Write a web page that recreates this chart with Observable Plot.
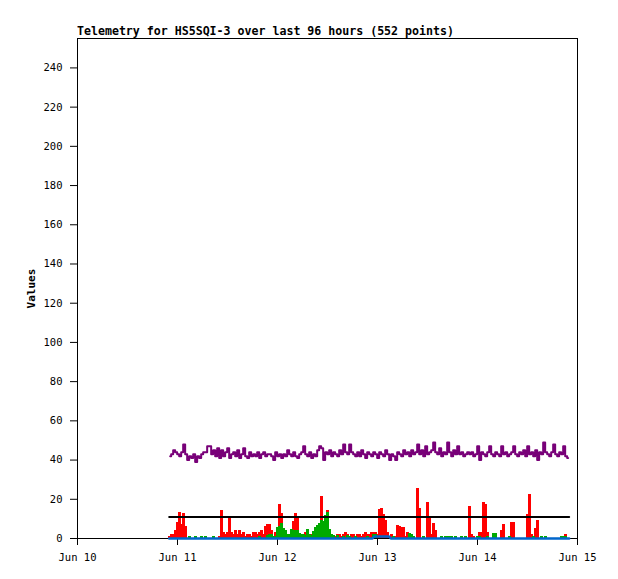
<!DOCTYPE html>
<html>
<head>
<meta charset="utf-8">
<script src="https://cdn.jsdelivr.net/npm/d3@7"></script>
<script src="https://cdn.jsdelivr.net/npm/@observablehq/plot@0.6"></script>
<style>
  body { margin: 0; background: white; }
  #wrap { position: relative; width: 618px; height: 579px; }
  #title {
    position: absolute; left: 77px; top: 25px;
    font: bold 11.6px "DejaVu Sans Mono", monospace; line-height: 12px;
    color: black; white-space: nowrap;
  }
  #chart svg [aria-label="y-axis label"] text { font-weight: bold; font-size: 11px; }
</style>
</head>
<body>
<div id="wrap">
  <div id="title">Telemetry for HS5SQI-3 over last 96 hours (552 points)</div>
  <div id="chart"></div>
</div>
<script>
// 96 hours starting Jun 10 22:00, 200 bins of 0.48 h each (one row per day-ish)
const startTime = Date.UTC(2023, 5, 10, 22, 0)
const binHours = 0.48

const purple = [
  42,43,45,44,43,42,44,48,43,40,42,41,43,39,42,41,43,44,44,47,47,43,45,42,46,41,45,42,44,46,41,43,44,42,45,41,43,46,42,41,44,42,43,42,44,41,43,44,42,43,
  43,42,40,44,42,43,41,43,42,45,43,42,44,42,41,43,44,47,43,42,44,41,43,42,45,47,46,40,44,43,45,42,44,43,42,45,43,48,44,43,48,44,43,42,44,42,45,43,41,44,
  43,42,44,43,41,44,43,42,45,43,40,43,42,40,44,43,42,45,43,44,42,45,43,44,48,43,45,42,47,43,44,45,49,44,43,46,42,44,43,49,44,42,45,43,47,43,44,42,43,44,
  43,44,42,43,47,40,44,43,42,44,47,43,42,44,43,42,47,43,44,42,43,44,47,43,42,44,43,45,42,47,43,44,42,45,40,44,43,49,44,43,42,44,48,43,42,44,43,47,42,41
]

const red = [
  1,2,2,4,8,13.5,7,12.5,6,0, 0,0,0,0,0,0,0,0,0,0, 0,0,0,0,0,1,14.5,3,2,3, 10,3,2,4,2,4,2,3,1,2, 2,1,3,3,2,3,4,2,6,7,
  7,4,1,3,5,17.5,13,3,2,1, 2,1,8.5,12.5,10,2,1,2,3,1, 2,2,1,2,3,7,21.5,4,4,14.5, 3,2,1,1,2,2,1,2,3,2, 1,2,2,1,2,2,1,2,3,2,
  2,3,3,3,2,15,15.5,12,9,3, 1,2,1,1,6.5,6,5.5,5.5,1,3, 0,0,0,0,25.5,15.5,0,0,0,18.5, 11,2,7.5,4,0,0,0,0,0,0, 0,0,0,0,0,0,0,0,0,0,
  16.5,2,1,0,0,3,3,18.5,17.5,3, 0,0,0,0,0,0,4,7.3,0,0, 0,8.3,8,0,0,0,0,0,0,12, 22.5,2,1,5,9.3,0,0,0,0,0, 0,0,0,0,0,0,0,0,2,0
]

const green = [
  0,0,0,0,0,0,0,0,0,0, 1.2,0,0,1.2,0,0,1.2,0,1.2,0, 0,0,1.2,0,0,0,0,0,0,0, 0,0,0,0,0,0,0,0,0,0, 0,0,0,0,0,1,0,0,0,1.5,
  2,2,1,1,5.5,6,7.5,5,4,2, 2,4.5,4,4,4,2.5,2,2,1.5,4.5, 2,1.5,3.5,5.5,6.5,7.5,9,8.5,11.5,13.5, 4.5,2,1.5,0,1.5,0,0,1,0,1.5, 1.2,0,0,1.2,0,0,0,0,0,1.2,
  0,0,2,2,0,0,0,0,0,0, 0,0,1.2,0,0,0,0,0,0,0, 2.5,2,1.2,0,0,0,0,1.2,0,0, 0,0,0,0,0,0,1.2,0,1.2,1.2, 1.2,1.2,0,1.2,0,0,1.2,0,1.2,0,
  0,0,0,0,1.2,1.2,0,0,0,1.2, 0,0,2.3,2.3,0,0,0,0,0,0, 1.2,0,0,0,0,0,0,0,0,0, 0,0,1.2,0,0,0,1.2,0,1.2,0, 0,0,0,0,0,0,1.2,1.2,1.2,0
]

// flat series, given by their change points (hours from start)
const blueHours = [0, 48.8, 49.2, 52.8, 53.2, 96]
const blueValues = [0, 0, 1, 1, 0, 0]
const blackHours = [0, 96]
const blackValues = [11, 11]

const yTicks = [0,20,40,60,80,100,120,140,160,180,200,220,240]
const xTicks = [10, 11, 12, 13, 14, 15].map(d => new Date(Date.UTC(2023, 5, d)))

const hourToDate = h => new Date(startTime + h * 3600e3)
const bins = i => ({t1: hourToDate(i * binHours), t2: hourToDate((i + 1) * binHours), tm: hourToDate((i + 0.5) * binHours)})

const purpleData = purple.map((v, i) => ({...bins(i), v}))
const redData = red.map((v, i) => ({...bins(i), v})).filter(d => d.v > 0)
const greenData = green.map((v, i) => ({...bins(i), v})).filter(d => d.v > 0)
const blueData = blueHours.map((h, i) => ({t: hourToDate(h), v: blueValues[i]}))
const blackData = blackHours.map((h, i) => ({t: hourToDate(h), v: blackValues[i]}))

// bars overlap a hair so neighbouring bins join up like the original fill
const barOpts = {x1: 't1', x2: 't2', y: 'v', insetLeft: -0.4, insetRight: -0.4, shapeRendering: 'crispEdges'}

const chart = Plot.plot({
  width: 618,
  height: 579,
  marginLeft: 77,
  marginRight: 41,
  marginTop: 38,
  marginBottom: 41,
  style: {fontFamily: '"DejaVu Sans Mono", monospace', fontSize: '10.5px', background: 'white', color: 'black'},
  x: {
    type: 'utc',
    domain: [xTicks[0], xTicks[xTicks.length - 1]],
    ticks: xTicks,
    tickFormat: d3.utcFormat('%b %d'),
    tickSize: 7,
    tickPadding: 8,
    label: null
  },
  y: {
    domain: [0, 255],
    ticks: yTicks,
    tickSize: 7,
    tickPadding: 8,
    label: 'Values',
    labelAnchor: 'center',
    labelArrow: 'none',
    labelOffset: 50
  },
  marks: [
    Plot.frame({stroke: 'black'}),
    Plot.ruleY([0], {stroke: 'black', strokeWidth: 1}),
    Plot.line(purpleData, {x: 'tm', y: 'v', stroke: '#780078', strokeWidth: 2, curve: 'step'}),
    Plot.rectY(redData, {...barOpts, fill: '#ff0000'}),
    Plot.rectY(greenData, {...barOpts, fill: '#00aa00'}),
    Plot.line(blueData, {x: 't', y: 'v', stroke: '#0066cc', strokeWidth: 2.5}),
    Plot.line(blackData, {x: 't', y: 'v', stroke: 'black', strokeWidth: 2})
  ]
})

d3.select('#chart').append(() => chart)
</script>
</body>
</html>
